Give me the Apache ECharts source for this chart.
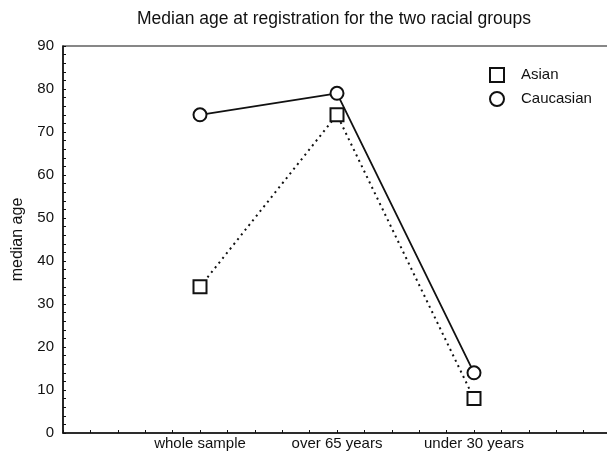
<!DOCTYPE html>
<html>
<head>
<meta charset="utf-8">
<script src="https://cdn.jsdelivr.net/npm/echarts@6/dist/echarts.min.js"></script>
<style>html,body{margin:0;padding:0;background:#fff}#c{width:607px;height:457px}</style>
</head>
<body>
<div id="c"></div>
<script>
var categories = ['whole sample', 'over 65 years', 'under 30 years'];
var asian = [34, 74, 8];
var caucasian = [74, 79, 14];
var yTicks = [0, 10, 20, 30, 40, 50, 60, 70, 80, 90];

var FONT = '"Liberation Sans", Arial, sans-serif';
var INK = '#111';

function toPts(arr) { return arr.map(function (v, i) { return [i + 1, v]; }); }

var chart = echarts.init(document.getElementById('c'), null, { renderer: 'canvas' });
chart.setOption({
  animation: false,
  backgroundColor: '#fff',
  title: {
    text: 'Median age at registration for the two racial groups',
    left: 329, top: 5, textAlign: 'center',
    textStyle: { fontFamily: FONT, fontSize: 17.5, fontWeight: 'normal', color: INK }
  },
  legend: {
    orient: 'vertical', left: 489, top: 67, padding: 0,
    itemWidth: 14, itemHeight: 14, itemGap: 8,
    textStyle: { fontFamily: FONT, fontSize: 15, color: INK, padding: [0, 0, 0, 12] },
    data: [
      { name: 'Asian', icon: 'rect', itemStyle: { color: '#fff', borderColor: INK, borderWidth: 2 } },
      { name: 'Caucasian', icon: 'circle', itemStyle: { color: '#fff', borderColor: INK, borderWidth: 2 } }
    ]
  },
  grid: { left: 63, width: 548, top: 46, height: 387, outerBoundsMode: 'none', containLabel: false,
          show: true, borderColor: INK, borderWidth: 1.2 },
  xAxis: {
    type: 'value', min: 0, max: 4, interval: 1,
    axisLine: { lineStyle: { color: INK, width: 1.5 } },
    axisTick: { show: true, inside: true, length: 3, lineStyle: { color: INK, width: 1 } },
    minorTick: { show: true, splitNumber: 5, length: 3, lineStyle: { color: INK, width: 1 } },
    splitLine: { show: false },
    axisLabel: {
      margin: 3, fontFamily: FONT, fontSize: 15, color: INK,
      formatter: function (v) { return categories[v - 1] || ''; }
    }
  },
  yAxis: {
    type: 'value', min: yTicks[0], max: yTicks[yTicks.length - 1], interval: 10,
    name: 'median age', nameLocation: 'middle', nameGap: 37,
    nameTextStyle: { fontFamily: FONT, fontSize: 16, color: INK },
    axisLine: { show: true, lineStyle: { color: INK, width: 1.5 } },
    axisTick: { show: true, inside: true, length: 3, lineStyle: { color: INK } },
    minorTick: { show: true, splitNumber: 5, length: 3, lineStyle: { color: INK, width: 1 } },
    splitLine: { show: false },
    axisLabel: { margin: 9, fontFamily: FONT, fontSize: 15, color: INK }
  },
  series: [
    {
      name: 'Asian', type: 'line', data: toPts(asian),
      symbol: 'rect', symbolSize: 13,
      itemStyle: { color: '#fff', borderColor: INK, borderWidth: 2 },
      lineStyle: { color: INK, width: 2, type: [2, 4] },
      z: 2
    },
    {
      name: 'Caucasian', type: 'line', data: toPts(caucasian),
      symbol: 'circle', symbolSize: 13,
      itemStyle: { color: '#fff', borderColor: INK, borderWidth: 2 },
      lineStyle: { color: INK, width: 1.8, type: 'solid' },
      z: 3
    }
  ]
});
</script>
</body>
</html>
